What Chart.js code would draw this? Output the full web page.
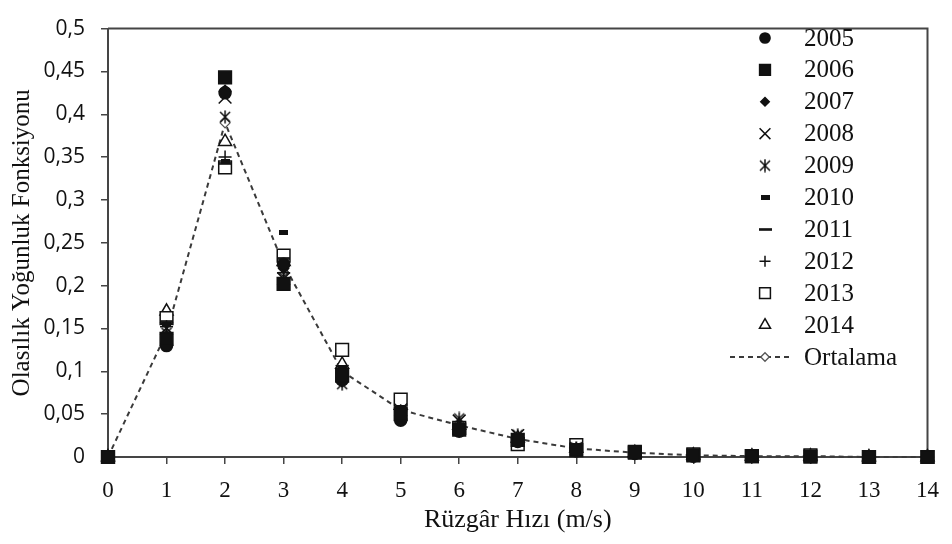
<!DOCTYPE html>
<html>
<head>
<meta charset="utf-8">
<script src="https://cdn.jsdelivr.net/npm/chart.js@4.4.0/dist/chart.umd.min.js"></script>
<style>
  html, body { margin: 0; padding: 0; background: #fff; }
  #wrap { width: 952px; height: 544px; }
</style>
</head>
<body>
<div id="wrap"><canvas id="chart" width="952" height="544"></canvas></div>
<script>
// Wind speed classes (m/s)
const speeds = [0, 1, 2, 3, 4, 5, 6, 7, 8, 9, 10, 11, 12, 13, 14];

// Probability density per year
const y2005 = [0, 0.130, 0.425, 0.225, 0.090, 0.043, 0.030, 0.018, 0.007, 0.004, 0.001, 0.001, 0.0005, 0, 0];
const y2006 = [0, 0.138, 0.443, 0.202, 0.095, 0.050, 0.032, 0.020, 0.008, 0.005, 0.002, 0.001, 0.0005, 0, 0];
const y2007 = [0, 0.135, 0.428, 0.220, 0.088, 0.047, 0.033, 0.019, 0.008, 0.004, 0.001, 0.001, 0.0005, 0, 0];
const y2008 = [0, 0.150, 0.420, 0.208, 0.100, 0.055, 0.042, 0.025, 0.010, 0.005, 0.002, 0.001, 0.001, 0, 0];
const y2009 = [0, 0.145, 0.397, 0.210, 0.085, 0.052, 0.045, 0.026, 0.011, 0.006, 0.002, 0.001, 0.001, 0, 0];
const y2010 = [0, 0.155, 0.345, 0.262, 0.105, 0.058, 0.036, 0.022, 0.009, 0.005, 0.002, 0.001, 0.001, 0, 0];
const y2011 = [0, 0.158, 0.343, 0.232, 0.102, 0.056, 0.035, 0.021, 0.009, 0.004, 0.002, 0.001, 0.001, 0, 0];
const y2012 = [0, 0.152, 0.350, 0.215, 0.098, 0.054, 0.038, 0.020, 0.010, 0.005, 0.002, 0.001, 0.001, 0, 0];
const y2013 = [0, 0.162, 0.338, 0.235, 0.125, 0.067, 0.034, 0.015, 0.014, 0.006, 0.003, 0.001, 0.002, 0, 0];
const y2014 = [0, 0.170, 0.368, 0.228, 0.108, 0.060, 0.037, 0.022, 0.010, 0.005, 0.002, 0.001, 0.001, 0, 0];
const ortalama = [0, 0.145, 0.390, 0.225, 0.100, 0.055, 0.037, 0.021, 0.010, 0.005, 0.002, 0.001, 0.001, 0, 0];

const yTicks = [0, 0.05, 0.1, 0.15, 0.2, 0.25, 0.3, 0.35, 0.4, 0.45, 0.5];

const INK = '#111111';
const AXIS = '#454545';
const SERIF = "'Liberation Serif', 'Times New Roman', serif";

// custom marker glyphs for the ones chart.js doesn't have
function makeMarker(w, h, draw) {
  const c = document.createElement('canvas');
  c.width = w; c.height = h;
  const g = c.getContext('2d');
  g.strokeStyle = INK; g.fillStyle = INK;
  draw(g, w, h);
  return c;
}
const asterisk = makeMarker(14, 14, (g) => {
  g.lineWidth = 1.5;
  g.beginPath();
  g.moveTo(2, 2); g.lineTo(12, 12);
  g.moveTo(12, 2); g.lineTo(2, 12);
  g.moveTo(7, 0.5); g.lineTo(7, 13.5);
  g.stroke();
});
const thickDash = makeMarker(9, 5, (g, w, h) => g.fillRect(0, 0, w, h));
const longDash = makeMarker(13, 3, (g, w, h) => g.fillRect(0, 0.2, w, 2.6));

function pts(arr) {
  return speeds.map((x, i) => ({ x: x, y: arr[i] }));
}

function series(label, arr, style, radius, fill, order) {
  return {
    label: label,
    data: pts(arr),
    pointStyle: style,
    pointRadius: radius,
    pointHoverRadius: radius,
    pointBackgroundColor: fill,
    pointBorderColor: INK,
    pointBorderWidth: 1.5,
    showLine: false,
    clip: false,
    order: order
  };
}

const datasets = [
  series('2006', y2006, 'rect', 9, INK, 0),
  series('2005', y2005, 'circle', 6, INK, 1),
  series('2007', y2007, 'rectRot', 5, INK, 1),
  series('2008', y2008, 'crossRot', 9, INK, 1),
  series('2009', y2009, asterisk, 7, INK, 1),
  series('2010', y2010, thickDash, 5, INK, 1),
  series('2011', y2011, longDash, 6, INK, 1),
  series('2012', y2012, 'cross', 6.5, INK, 1),
  series('2013', y2013, 'rect', 9, '#ffffff', 1),
  series('2014', y2014, 'triangle', 7.5, '#ffffff', 1),
  {
    label: 'Ortalama',
    data: pts(ortalama),
    pointStyle: 'rectRot',
    pointRadius: 5,
    pointHoverRadius: 5,
    pointBackgroundColor: '#ffffff',
    pointBorderColor: '#555',
    pointBorderWidth: 1.3,
    showLine: true,
    borderColor: '#3a3a3a',
    borderWidth: 2,
    borderDash: [5, 4],
    tension: 0,
    clip: false,
    order: 2
  }
];

// legend order as in the figure
const legendOrder = ['2005', '2006', '2007', '2008', '2009', '2010', '2011', '2012', '2013', '2014', 'Ortalama'];

const framePlugin = {
  id: 'frame',
  beforeDatasetsDraw(chart) {
    const { ctx, chartArea: a } = chart;
    ctx.save();
    ctx.strokeStyle = AXIS;
    ctx.lineWidth = 2;
    ctx.beginPath();
    ctx.moveTo(a.left, a.top);
    ctx.lineTo(a.right, a.top);
    ctx.lineTo(a.right, a.bottom);
    ctx.stroke();
    ctx.restore();
  }
};

const legendPlugin = {
  id: 'sideLegend',
  afterDraw(chart) {
    const { ctx } = chart;
    const markX = 765, textX = 804, top = 38, step = 31.9;
    ctx.save();
    ctx.font = '25px ' + SERIF;
    ctx.textBaseline = 'middle';
    ctx.textAlign = 'left';
    legendOrder.forEach((name, i) => {
      const ds = chart.data.datasets.find(d => d.label === name);
      const y = top + i * step;
      if (ds.showLine) {
        ctx.strokeStyle = '#3a3a3a';
        ctx.lineWidth = 2;
        ctx.setLineDash([5, 4]);
        ctx.beginPath();
        ctx.moveTo(730, y);
        ctx.lineTo(792, y);
        ctx.stroke();
        ctx.setLineDash([]);
      }
      ctx.fillStyle = ds.pointBackgroundColor;
      ctx.strokeStyle = ds.pointBorderColor;
      ctx.lineWidth = ds.pointBorderWidth;
      Chart.helpers.drawPoint(ctx, {
        pointStyle: ds.pointStyle,
        radius: ds.pointRadius * 0.85,
        rotation: 0,
        borderWidth: ds.pointBorderWidth
      }, markX, y);
      ctx.fillStyle = INK;
      ctx.fillText(name, textX, y + 1);
    });
    ctx.restore();
  }
};

new Chart(document.getElementById('chart'), {
  type: 'scatter',
  data: { datasets: datasets },
  options: {
    responsive: false,
    animation: false,
    devicePixelRatio: 1,
    layout: { padding: { top: 14, right: 18, left: 0, bottom: 0 } },
    plugins: {
      legend: { display: false },
      tooltip: { enabled: false }
    },
    scales: {
      x: {
        type: 'linear',
        min: 0,
        max: 14,
        afterFit: (s) => { s.height = 87; },
        ticks: {
          stepSize: 1,
          color: INK,
          padding: 13,
          font: { family: SERIF, size: 23 }
        },
        grid: { drawOnChartArea: false, drawTicks: true, tickLength: 7, color: AXIS, lineWidth: 1.5 },
        border: { display: true, color: AXIS, width: 2 },
        title: {
          display: true,
          text: 'Rüzgâr Hızı (m/s)',
          color: INK,
          font: { family: SERIF, size: 26 },
          padding: { top: 0, bottom: 8 }
        }
      },
      y: {
        type: 'linear',
        min: 0,
        max: 0.5,
        afterFit: (s) => { s.width = 108; },
        afterBuildTicks: (s) => { s.ticks = yTicks.map(v => ({ value: v })); },
        ticks: {
          color: INK,
          padding: 16,
          font: { family: "'Open Sans', sans-serif", size: 21 },
          callback: (v) => String(Number(v.toFixed(2))).replace('.', ',')
        },
        grid: { drawOnChartArea: false, drawTicks: true, tickLength: 7, color: AXIS, lineWidth: 1.5 },
        border: { display: true, color: AXIS, width: 2 },
        title: {
          display: true,
          text: 'Olasılık Yoğunluk Fonksiyonu',
          color: INK,
          font: { family: SERIF, size: 25 },
          padding: { top: 7, bottom: 0 }
        }
      }
    }
  },
  plugins: [framePlugin, legendPlugin]
});
</script>
</body>
</html>
